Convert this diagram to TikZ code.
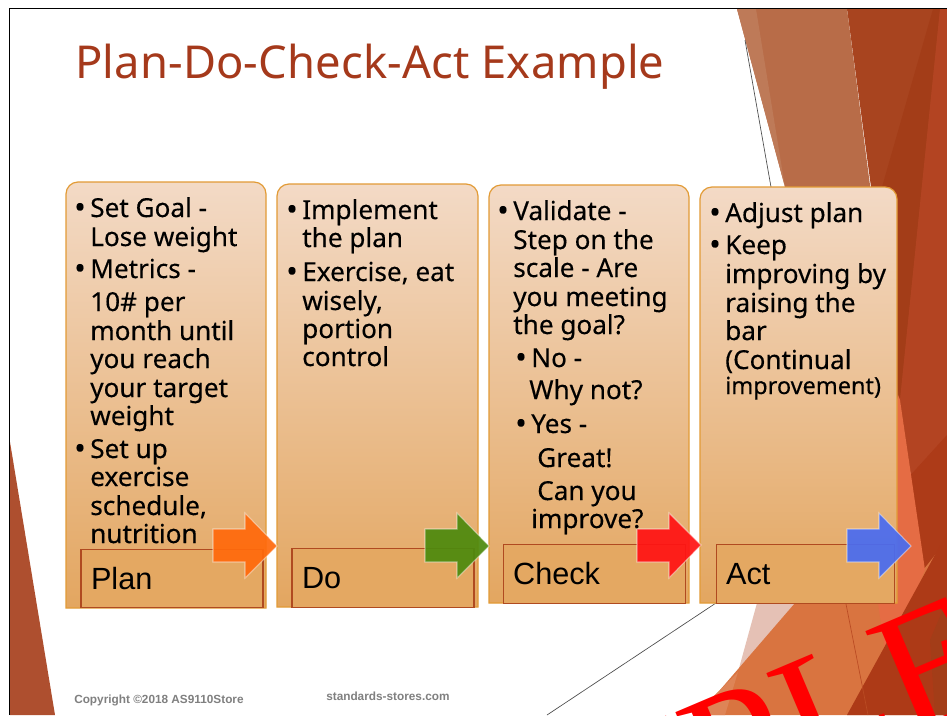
\documentclass[tikz,border=0pt]{standalone}
\usepackage{fontspec}
\usetikzlibrary{calc}
\setmainfont{Liberation Sans}
\newfontfamily\bodyfont[FakeBold=0.3]{Noto Sans}
\newfontfamily\titlefont[LetterSpace=0.3]{Noto Sans}
\newfontfamily\stampfont{Liberation Serif}
\definecolor{titlered}{HTML}{A5391B}
\definecolor{cardtop}{HTML}{F3DAC6}
\definecolor{cardbot}{HTML}{E3A660}
\definecolor{cardedge}{HTML}{E29B36}
\definecolor{labeledge}{HTML}{B04A20}
\definecolor{labelfill}{HTML}{E4A862}
\definecolor{bandlight}{HTML}{BE7A58}
\definecolor{bandmain}{HTML}{B86C48}
\definecolor{rust}{HTML}{A8441F}
\definecolor{rustdark}{HTML}{A33D18}
\definecolor{ruststripe}{HTML}{B34422}
\definecolor{rustlow}{HTML}{AD3A17}
\definecolor{leftwedge}{HTML}{AE4F2F}
\definecolor{palepink}{HTML}{E5C1B5}
\definecolor{lowor}{HTML}{D97440}
\definecolor{lowlight}{HTML}{DE8456}
\definecolor{lowbright}{HTML}{E56C44}
\definecolor{arrorange}{HTML}{FF6A0C}
\definecolor{arrgreen}{HTML}{4E8A0E}
\definecolor{arrred}{HTML}{FF1414}
\definecolor{arrblue}{HTML}{4A6CF0}
\tikzset{
  x=0.75pt,y=-0.75pt,
  card/.style={draw=cardedge,line width=0.9pt,top color=cardtop,bottom color=cardbot},
  labelbox/.style={draw=labeledge,line width=0.8pt,fill=labelfill,minimum width=#1,minimum height=44pt,text width=#1-15pt,inner xsep=7.5pt,inner ysep=0pt,align=left,font=\fontsize{23}{26}\selectfont},
  arrowshape/.style={draw=white,draw opacity=.45,line width=0.8pt,fill=#1,fill opacity=.93},
  bodytxt/.style={anchor=base west,inner sep=0pt,font=\bodyfont\fontsize{19.6}{24}\selectfont},
  bulltxt/.style={anchor=base west,inner sep=0pt,font=\bodyfont\fontsize{23}{24}\selectfont},
  foot/.style={anchor=base west,inner sep=0pt,text=black!50,font=\bfseries\fontsize{8.85}{10}\selectfont},
  hair/.style={draw=black!70,line width=0.5pt}
}
\newcounter{tln}
\newcommand{\tl}[3]{\stepcounter{tln}\node[bodytxt,name=txt\arabic{tln}] at (#1,#2) {#3};}
\newcommand{\bul}[2]{\stepcounter{tln}\node[bulltxt,name=txt\arabic{tln}] at (#1-1,#2+1) {•};}
\newcommand{\arw}[3]{\path[arrowshape=#3] (#1,529) -- ++(32,0) -- ++(0,-16) -- ++(32,#2) -- (#1+32,578) -- ++(0,-16) -- (#1,562) -- cycle;}
\begin{document}
\begin{tikzpicture}
\useasboundingbox (0,0) rectangle (947,715);
\clip (0,0) rectangle (947,715);
\fill[white] (0,0) rectangle (947,715);
% top-right bands
\fill[rust] (847,9) -- (947,9) -- (947,560) -- (880,400) -- (871,187) -- cycle;
\fill[bandmain] (737,9) -- (847,9) -- (885,300) -- (785,187) -- cycle;
\fill[bandlight] (737,9) -- (756,9) -- (785,187) -- cycle;
\fill[rustdark] (933,9) -- (940,9) -- (900,400) -- (880,300) -- (882,187) -- cycle;
\fill[ruststripe] (940,9) -- (947,9) -- (947,560) -- (925,570) -- (900,400) -- cycle;
\fill[rustlow!92!ruststripe] (947,435) -- (897,490) -- (925,570) -- (947,540) -- cycle;
% lower-right shapes
\fill[palepink] (757,603) -- (795,603) -- (738,672) -- cycle;
\fill[lowor] (795,603) -- (720,690) -- (695,715) -- (947,715) -- (947,540) -- (897,603) -- cycle;
\fill[lowlight] (738,672) -- (720,690) -- (695,715) -- (725,715) -- cycle;
\fill[lowbright] (898,395) -- (900,400) -- (925,570) -- (907,612) -- (885,650) -- (878,603) -- (880,500) -- cycle;
\fill[rustlow] (947,533) -- (847,715) -- (947,715) -- cycle;
\fill[rustdark] (947,600) -- (930,640) -- (935,715) -- (947,715) -- cycle;
\draw[draw=rustlow!70!lowor,line width=0.5pt] (846,604) -- (868,715);
% left wedge
\fill[leftwedge] (10,442) -- (55,715) -- (10,715) -- cycle;
% frame
\draw[black,line width=1.2pt] (9.5,715) -- (9.5,8.5) -- (947,8.5);
% hairlines
\coordinate (hairtopA) at (745,40);
\coordinate (hairtopB) at (771,187);
\coordinate (hairlowA) at (716,603);
\coordinate (hairlowB) at (547,715);
\draw[hair] (hairtopA) -- (hairtopB);
\draw[hair] (hairlowA) -- (hairlowB);
% title
\node[anchor=base west,inner sep=0pt,text=titlered,font=\titlefont\fontsize{34}{40}\selectfont] (title) at (75,78) {Plan-Do-Check-Act Example};
% cards
\path[card] (66,608) [rounded corners=9pt] -- (66,182) -- (266,182) [sharp corners] -- (266,608) -- cycle;
\path[card] (277,607) [rounded corners=9pt] -- (277,184) -- (478,184) [sharp corners] -- (478,607) -- cycle;
\path[card] (489,603) [rounded corners=9pt] -- (489,185) -- (689,185) [sharp corners] -- (689,603) -- cycle;
\path[card] (700,603) [rounded corners=9pt] -- (700,187) -- (897,187) [sharp corners] -- (897,603) -- cycle;
% label boxes
\node[labelbox=136.5pt] (plan) at (172,578.5) {Plan};
\node[labelbox=136.5pt] (do) at (383,578) {Do};
\node[labelbox=137pt] (check) at (594.5,574) {Check};
\node[labelbox=134pt] (act) at (805.5,574) {Act};
% text col 1
\bul{75}{217}\tl{90}{217}{Set Goal -}
\tl{90}{246}{Lose weight}
\bul{75}{278}\tl{90}{278}{Metrics -}
\tl{90}{311}{10\# per}
\tl{90}{340}{month until}
\tl{90}{368}{you reach}
\tl{90}{397}{your target}
\tl{90}{425}{weight}
\bul{75}{458}\tl{90}{458}{Set up}
\tl{90}{486}{exercise}
\tl{90}{515}{schedule,}
\tl{90}{543}{nutrition}
% col 2
\bul{287}{219}\tl{302}{219}{Implement}
\tl{302}{247}{the plan}
\bul{287}{281}\tl{302}{281}{Exercise, eat}
\tl{302}{310}{wisely,}
\tl{302}{338}{portion}
\tl{302}{366}{control}
% col 3
\bul{498}{220}\tl{513}{220}{Validate -}
\tl{513}{249}{Step on the}
\tl{513}{277}{scale - Are}
\tl{513}{306}{you meeting}
\tl{513}{334}{the goal?}
\bul{516}{367}\tl{531}{367}{No -}
\tl{529}{399}{Why not?}
\bul{516}{433}\tl{531}{433}{Yes -}
\tl{537}{467}{Great!}
\tl{537}{500}{Can you}
\tl{531}{528}{improve?}
% col 4
\bul{710}{222}\tl{725}{222}{Adjust plan}
\bul{710}{254}\tl{725}{254}{Keep}
\tl{725}{283}{improving by}
\tl{725}{312}{raising the}
\tl{725}{340}{bar}
\tl{725}{369}{(Continual}
\stepcounter{tln}\node[bodytxt,font=\bodyfont\fontsize{17.6}{22}\selectfont,name=txt\arabic{tln}] at (725,394) {improvement)};
% arrows
\arw{213}{33}{arrorange}
\arw{425}{33}{arrgreen}
\arw{637}{32}{arrred}
\arw{847}{33}{arrblue}
% footers
\node[foot] (copy) at (74,703) {Copyright ©2018 AS9110Store};
\node[foot] (site) at (326,700) {standards-stores.com};
% stamp
\node[anchor=base east,inner sep=0pt,rotate=23,text=red,font=\stampfont\fontsize{133}{140}\selectfont] (stamp) at (1007,698) {SAMPLE};
\end{tikzpicture}
\end{document}
